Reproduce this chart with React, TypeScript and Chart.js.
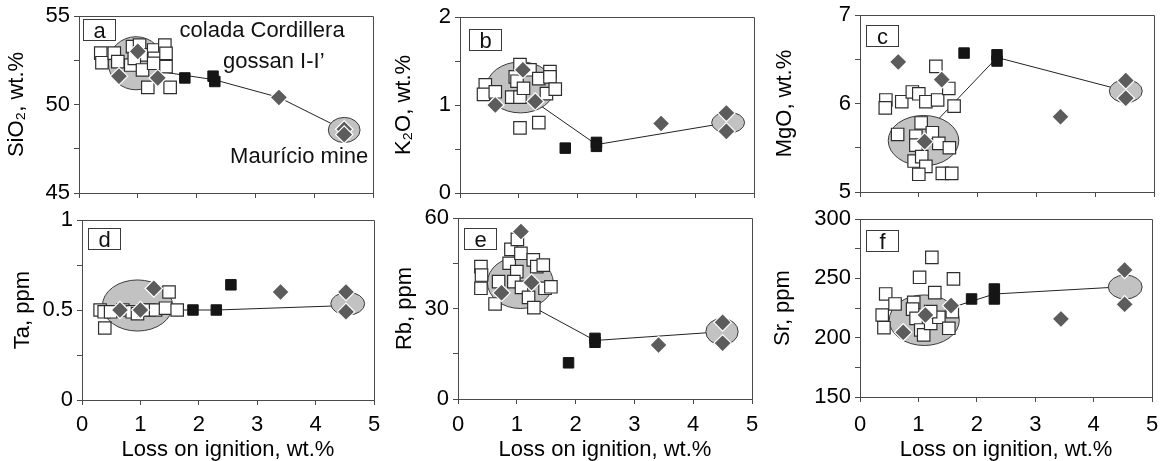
import React, { useEffect, useRef } from 'react';
import { Chart, registerables } from 'chart.js';

Chart.register(...registerables);

const FONT = "'Liberation Sans', Arial, Helvetica, sans-serif";
const AXIS = '#4a4a4a';
const xMin = 0;
const xMax = 5;
const xTitle = 'Loss on ignition, wt.%';

// ---- panel a : SiO2 ----
const aOpenX = [0.37, 0.39, 0.6, 0.66, 0.88, 0.91, 1.03, 1.06, 0.94, 1.08, 1.27, 1.28, 1.27, 1.46, 1.48, 1.48, 1.17, 1.55];
const aOpenY = [52.9, 52.36, 52.9, 52.42, 52.23, 53.27, 53.36, 52.8, 52.61, 51.95, 53.08, 52.61, 52.33, 53.36, 52.89, 52.14, 50.97, 50.97];
const aDiaX = [0.68, 1.0, 1.34, 3.4, 4.51, 4.51];
const aDiaY = [51.6, 53.0, 51.5, 50.4, 48.6, 48.3];
const aBlkX = [1.8, 2.28, 2.31];
const aBlkY = [51.5, 51.6, 51.3];
const aLineX = [1.1, 2.3, 3.4, 4.51];
const aLineY = [52.0, 51.4, 50.4, 48.56];
const aEllX = [0.97, 4.51];
const aEllY = [52.33, 48.56];
const aEllRx = [0.47, 0.27];
const aEllRy = [1.5, 0.71];
const aNoteText = ['colada Cordillera', 'gossan I-I\u2019', 'Maur\u00edcio mine'];
const aNoteX = [1.71, 2.45, 2.57];
const aNoteY = [53.8, 52.06, 46.7];

// ---- panel b : K2O ----
const bOpenX = [0.43, 0.4, 0.6, 0.88, 1.02, 1.02, 0.94, 0.97, 1.08, 1.19, 1.34, 1.53, 1.53, 1.47, 1.62, 1.02, 1.34];
const bOpenY = [1.23, 1.12, 1.15, 1.09, 1.09, 1.46, 1.32, 1.27, 1.19, 1.4, 1.3, 1.38, 1.32, 1.13, 1.18, 0.74, 0.8];
const bDiaX = [0.6, 1.07, 1.28, 3.42, 4.53, 4.53];
const bDiaY = [1.0, 1.4, 1.04, 0.79, 0.91, 0.7];
const bBlkX = [1.79, 2.32, 2.32];
const bBlkY = [0.51, 0.575, 0.53];
const bLineX = [1.03, 2.32, 4.56];
const bLineY = [1.15, 0.55, 0.8];
const bEllX = [1.03, 4.56];
const bEllY = [1.2, 0.8];
const bEllRx = [0.58, 0.28];
const bEllRy = [0.29, 0.12];

// ---- panel c : MgO ----
const cOpenX = [0.44, 0.43, 0.71, 0.89, 1.0, 1.12, 1.32, 1.29, 1.51, 1.6, 0.64, 1.04, 0.95, 0.95, 1.23, 1.34, 1.52, 0.92, 1.05, 1.12, 1.0, 1.4, 1.56];
const cOpenY = [6.04, 5.95, 6.02, 6.13, 6.11, 6.02, 6.04, 6.42, 6.17, 5.97, 5.65, 5.78, 5.63, 5.53, 5.67, 5.55, 5.5, 5.35, 5.4, 5.29, 5.2, 5.21, 5.21];
const cDiaX = [0.65, 1.39, 1.1, 3.41, 4.52, 4.52];
const cDiaY = [6.47, 6.27, 5.57, 5.85, 6.26, 6.06];
const cBlkX = [1.77, 2.33, 2.33];
const cBlkY = [6.57, 6.55, 6.48];
const cLineX = [1.1, 2.33, 4.52];
const cLineY = [5.66, 6.52, 6.14];
const cEllX = [1.08, 4.52];
const cEllY = [5.58, 6.14];
const cEllRx = [0.6, 0.28];
const cEllRy = [0.285, 0.13];

// ---- panel d : Ta ----
const dOpenX = [0.31, 0.38, 0.49, 0.7, 0.86, 0.95, 1.06, 1.15, 1.26, 1.43, 1.63, 0.39, 1.49];
const dOpenY = [0.5, 0.49, 0.49, 0.5, 0.49, 0.48, 0.5, 0.5, 0.5, 0.51, 0.5, 0.4, 0.6];
const dDiaX = [0.65, 1.0, 1.23, 3.4, 4.52, 4.52];
const dDiaY = [0.5, 0.5, 0.62, 0.6, 0.6, 0.49];
const dBlkX = [1.9, 2.3, 2.55];
const dBlkY = [0.5, 0.5, 0.64];
const dLineX = [1.0, 2.3, 4.55];
const dLineY = [0.5, 0.5, 0.525];
const dEllX = [0.95, 4.55];
const dEllY = [0.525, 0.535];
const dEllRx = [0.6, 0.29];
const dEllRy = [0.142, 0.063];

// ---- panel e : Rb ----
const eOpenX = [0.39, 0.4, 0.39, 0.63, 0.69, 0.87, 0.9, 1.01, 1.07, 1.0, 0.95, 1.08, 1.28, 1.34, 1.45, 1.2, 1.29, 1.48, 1.58];
const eOpenY = [43.9, 41.1, 36.7, 31.5, 38.9, 45.0, 49.6, 52.9, 48.3, 42.2, 38.9, 37.0, 46.1, 43.9, 44.4, 33.7, 30.3, 36.7, 37.2];
const eDiaX = [1.07, 0.74, 1.25, 3.41, 4.5, 4.5];
const eDiaY = [55.5, 35.2, 38.6, 17.9, 25.4, 18.5];
const eBlkX = [1.88, 2.33, 2.33];
const eBlkY = [12.0, 20.1, 18.8];
const eLineX = [1.06, 2.33, 4.49];
const eLineY = [32.8, 19.4, 22.3];
const eEllX = [1.06, 4.49];
const eEllY = [38.6, 22.3];
const eEllRx = [0.56, 0.275];
const eEllRy = [8.6, 4.4];

// ---- panel f : Sr ----
const fOpenX = [0.44, 0.6, 0.38, 0.41, 0.92, 0.9, 1.02, 1.23, 1.28, 1.6, 0.96, 1.04, 1.09, 1.21, 1.35, 1.21, 1.52, 1.58];
const fOpenY = [236.8, 228.4, 219.1, 208.4, 229.8, 224, 250.9, 267.7, 237.9, 249.5, 216.3, 206.5, 202.3, 212.1, 217.2, 222, 207.9, 221.9];
const fDiaX = [0.74, 1.12, 1.56, 3.44, 4.53, 4.53];
const fDiaY = [204.5, 219.1, 227, 215.8, 257, 228.1];
const fBlkX = [1.91, 2.3, 2.3];
const fBlkY = [232.6, 241, 232.6];
const fLineX = [1.1, 2.3, 4.54];
const fLineY = [218, 236.8, 243];
const fEllX = [1.1, 4.54];
const fEllY = [214.7, 242.7];
const fEllRx = [0.6, 0.29];
const fEllRy = [21.3, 10.1];

type PanelCfg = {
  letter: string;
  plot: number[];
  bottomRow: boolean;
  yMin: number; yMax: number; yStep: number; yLabelStep: number;
  yTitle: string; yTitleOff: number;
  box: number[];
  openX: number[]; openY: number[];
  diaX: number[]; diaY: number[];
  blkX: number[]; blkY: number[];
  lineX: number[]; lineY: number[];
  ellX: number[]; ellY: number[]; ellRx: number[]; ellRy: number[];
  notes?: { text: string[]; x: number[]; y: number[] };
};

const panels: PanelCfg[] = [
  { letter: 'a', plot: [79, 16, 373, 193], bottomRow: false, yMin: 45, yMax: 55, yStep: 2.5, yLabelStep: 5,
    yTitle: 'SiO\u2082, wt.%', yTitleOff: 62, box: [4, 3],
    openX: aOpenX, openY: aOpenY, diaX: aDiaX, diaY: aDiaY, blkX: aBlkX, blkY: aBlkY,
    lineX: aLineX, lineY: aLineY, ellX: aEllX, ellY: aEllY, ellRx: aEllRx, ellRy: aEllRy,
    notes: { text: aNoteText, x: aNoteX, y: aNoteY } },
  { letter: 'b', plot: [460, 17, 754, 193], bottomRow: false, yMin: 0, yMax: 2, yStep: 0.5, yLabelStep: 1,
    yTitle: 'K\u2082O, wt.%', yTitleOff: 56, box: [9, 12],
    openX: bOpenX, openY: bOpenY, diaX: bDiaX, diaY: bDiaY, blkX: bBlkX, blkY: bBlkY,
    lineX: bLineX, lineY: bLineY, ellX: bEllX, ellY: bEllY, ellRx: bEllRx, ellRy: bEllRy },
  { letter: 'c', plot: [860, 15, 1154, 192], bottomRow: false, yMin: 5, yMax: 7, yStep: 0.5, yLabelStep: 1,
    yTitle: 'MgO, wt.%', yTitleOff: 75, box: [6, 10],
    openX: cOpenX, openY: cOpenY, diaX: cDiaX, diaY: cDiaY, blkX: cBlkX, blkY: cBlkY,
    lineX: cLineX, lineY: cLineY, ellX: cEllX, ellY: cEllY, ellRx: cEllRx, ellRy: cEllRy },
  { letter: 'd', plot: [82, 220, 374, 400], bottomRow: true, yMin: 0, yMax: 1, yStep: 0.25, yLabelStep: 0.5,
    yTitle: 'Ta, ppm', yTitleOff: 59, box: [6, 8],
    openX: dOpenX, openY: dOpenY, diaX: dDiaX, diaY: dDiaY, blkX: dBlkX, blkY: dBlkY,
    lineX: dLineX, lineY: dLineY, ellX: dEllX, ellY: dEllY, ellRx: dEllRx, ellRy: dEllRy },
  { letter: 'e', plot: [458, 218, 752, 399], bottomRow: true, yMin: 0, yMax: 60, yStep: 15, yLabelStep: 30,
    yTitle: 'Rb, ppm', yTitleOff: 53, box: [6, 10],
    openX: eOpenX, openY: eOpenY, diaX: eDiaX, diaY: eDiaY, blkX: eBlkX, blkY: eBlkY,
    lineX: eLineX, lineY: eLineY, ellX: eEllX, ellY: eEllY, ellRx: eEllRx, ellRy: eEllRy },
  { letter: 'f', plot: [860, 219, 1154, 397], bottomRow: true, yMin: 150, yMax: 300, yStep: 25, yLabelStep: 50,
    yTitle: 'Sr, ppm', yTitleOff: 77, box: [6, 11],
    openX: fOpenX, openY: fOpenY, diaX: fDiaX, diaY: fDiaY, blkX: fBlkX, blkY: fBlkY,
    lineX: fLineX, lineY: fLineY, ellX: fEllX, ellY: fEllY, ellRx: fEllRx, ellRy: fEllRy },
];

const Y_W = 95;
const PAD_TOP = 18;
const PAD_RIGHT = 14;
const CANVAS_BOTTOM = 466;
const X_LABEL_CENTER = 425;

function PanelChart({ p }: { p: PanelCfg }) {
  const ref = useRef<HTMLCanvasElement>(null);
  const [L, T, R, B] = p.plot;
  const xH = p.bottomRow ? CANVAS_BOTTOM - B : 18;
  const cw = Y_W + (R - L) + PAD_RIGHT;
  const ch = PAD_TOP + (B - T) + xH;

  useEffect(() => {
    if (!ref.current) return;
    const pts = (xs: number[], ys: number[]) => xs.map((x, i) => ({ x, y: ys[i] }));
    const font = { family: FONT, size: 22 };

    const ellipsePlugin = {
      id: 'ellipses' + p.letter,
      beforeDatasetDraw(chart: any, args: any) {
        if (args.index !== 2) return;
        const { ctx, scales } = chart;
        const xs = scales.x, ys = scales.y;
        ctx.save();
        p.ellX.forEach((ex, i) => {
          const cx = xs.getPixelForValue(ex);
          const cy = ys.getPixelForValue(p.ellY[i]);
          const rx = Math.abs(xs.getPixelForValue(ex + p.ellRx[i]) - cx);
          const ry = Math.abs(ys.getPixelForValue(p.ellY[i] + p.ellRy[i]) - cy);
          ctx.beginPath();
          ctx.ellipse(cx, cy, rx, ry, 0, 0, Math.PI * 2);
          ctx.fillStyle = '#c2c2c2';
          ctx.fill();
          ctx.lineWidth = 1;
          ctx.strokeStyle = '#3a3a3a';
          ctx.stroke();
        });
        ctx.restore();
      },
    };

    const framePlugin = {
      id: 'frame' + p.letter,
      beforeDatasetsDraw(chart: any) {
        const { ctx, chartArea: a } = chart;
        ctx.save();
        ctx.strokeStyle = AXIS;
        ctx.lineWidth = 1;
        ctx.beginPath();
        ctx.moveTo(a.left, Math.round(a.top) + 0.5);
        ctx.lineTo(Math.round(a.right) + 0.5, Math.round(a.top) + 0.5);
        ctx.lineTo(Math.round(a.right) + 0.5, a.bottom);
        ctx.stroke();
        ctx.restore();
      },
      afterDatasetsDraw(chart: any) {
        const { ctx, chartArea: a, scales } = chart;
        ctx.save();
        const bx = Math.round(a.left + p.box[0]) + 0.5;
        const by = Math.round(a.top + p.box[1]) + 0.5;
        ctx.fillStyle = '#fff';
        ctx.fillRect(bx, by, 32, 21);
        ctx.strokeStyle = '#3a3a3a';
        ctx.lineWidth = 1;
        ctx.strokeRect(bx, by, 32, 21);
        ctx.fillStyle = '#111';
        ctx.font = `22px ${FONT}`;
        ctx.textAlign = 'center';
        ctx.textBaseline = 'alphabetic';
        ctx.fillText(p.letter, bx + 16, by + 18);
        if (p.notes) {
          ctx.textAlign = 'left';
          p.notes.text.forEach((t, i) => {
            ctx.fillText(t, scales.x.getPixelForValue(p.notes!.x[i]), scales.y.getPixelForValue(p.notes!.y[i]));
          });
        }
        ctx.restore();
      },
    };

    const gridOpts = { drawOnChartArea: false, drawTicks: true, tickLength: 5, color: AXIS, lineWidth: 1 };
    const borderOpts = { color: AXIS, width: 1 };
    const isLabel = (v: number) => Math.abs(v / p.yLabelStep - Math.round(v / p.yLabelStep)) < 1e-6;

    const chart = new Chart(ref.current, {
      type: 'scatter',
      data: {
        datasets: [
          {
            label: 'Maurício mine',
            data: pts(p.diaX, p.diaY),
            pointStyle: 'rectRot',
            pointRadius: 8.7,
            backgroundColor: '#5c5c5c',
            borderColor: '#ffffff',
            borderWidth: 1.2,
            order: 0,
          },
          {
            label: 'gossan',
            data: pts(p.blkX, p.blkY),
            pointStyle: 'rect',
            pointRadius: 7.4,
            backgroundColor: '#151515',
            borderColor: '#151515',
            borderWidth: 1,
            order: 1,
          },
          {
            label: 'colada Cordillera',
            data: pts(p.openX, p.openY),
            pointStyle: 'rect',
            pointRadius: 8.8,
            backgroundColor: '#ffffff',
            borderColor: '#2e2e2e',
            borderWidth: 1.2,
            order: 2,
          },
          {
            label: 'trend',
            data: pts(p.lineX, p.lineY),
            showLine: true,
            pointRadius: 0,
            borderColor: '#222',
            borderWidth: 1,
            order: 3,
          },
        ],
      } as any,
      options: {
        animation: false,
        responsive: false,
        events: [],
        layout: { padding: { top: PAD_TOP, right: PAD_RIGHT, left: 0, bottom: 0 } },
        plugins: { legend: { display: false }, tooltip: { enabled: false } },
        scales: {
          x: {
            type: 'linear',
            position: 'bottom',
            min: xMin,
            max: xMax,
            grid: gridOpts,
            border: borderOpts,
            ticks: {
              display: p.bottomRow,
              stepSize: 1,
              autoSkip: false,
              maxRotation: 0,
              color: '#000',
              font,
              padding: X_LABEL_CENTER - B - 18.2,
            },
            title: {
              display: p.bottomRow,
              text: xTitle,
              color: '#000',
              font,
              padding: { top: 0, bottom: 2.8 },
            },
            afterFit: (s: any) => { s.height = xH; },
          },
          y: {
            type: 'linear',
            min: p.yMin,
            max: p.yMax,
            grid: gridOpts,
            border: borderOpts,
            ticks: {
              stepSize: p.yStep,
              autoSkip: false,
              color: '#000',
              font,
              padding: 4,
              callback: (v: any) => (isLabel(Number(v)) ? String(v) : ''),
            },
            title: {
              display: true,
              text: p.yTitle,
              color: '#000',
              font,
              padding: { top: Y_W - p.yTitleOff - 13.2, bottom: 0 },
            },
            afterFit: (s: any) => { s.width = Y_W; },
          },
        },
      } as any,
      plugins: [ellipsePlugin, framePlugin] as any,
    });
    return () => chart.destroy();
  }, []);

  return (
    <canvas
      ref={ref}
      width={cw}
      height={ch}
      style={{ position: 'absolute', left: L - Y_W, top: T - PAD_TOP, width: cw, height: ch, display: 'block' }}
    />
  );
}

export default function App() {
  return (
    <div style={{ position: 'absolute', left: 0, top: 0, width: 1169, height: 461, background: '#fff', overflow: 'hidden' }}>
      {panels.map((p) => (
        <PanelChart key={p.letter} p={p} />
      ))}
    </div>
  );
}
